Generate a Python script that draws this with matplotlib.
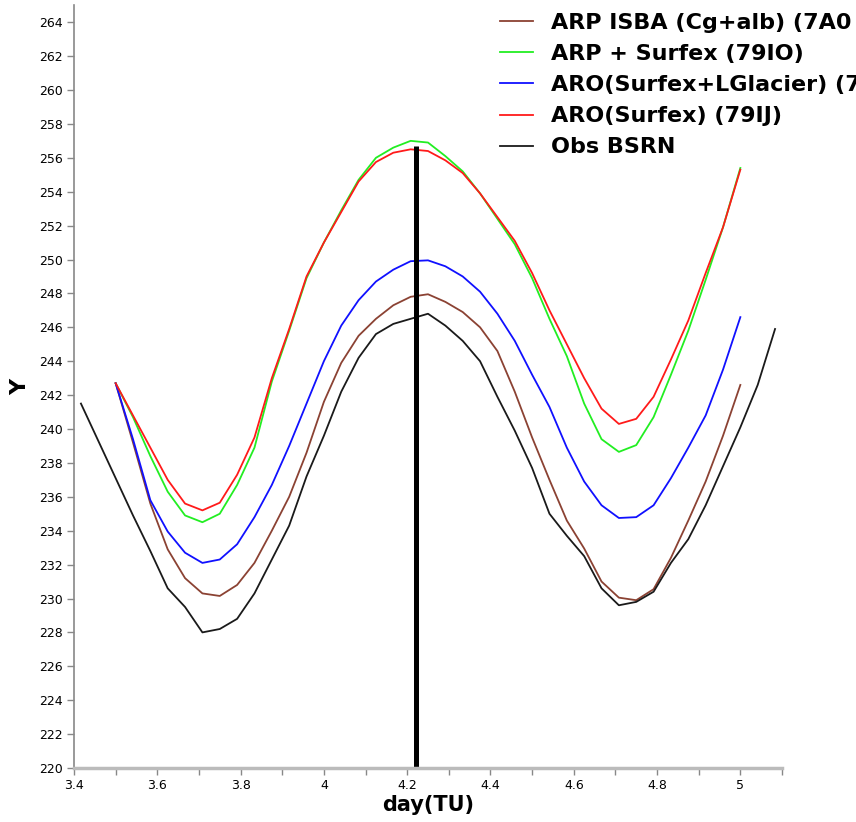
import numpy as np
import matplotlib
matplotlib.use("Agg")
import matplotlib.pyplot as plt
from matplotlib.ticker import MultipleLocator, FormatStrFormatter

# hourly model output, day 3.5 -> 5.0
t_model = 3.5 + np.arange(37) / 24.0
# hourly observations, day 3.4167 -> 5.0833
t_obs = 3.5 - 2 / 24.0 + np.arange(41) / 24.0

arp_isba = [242.7, 239.2, 235.6, 232.9, 231.2, 230.3, 230.15, 230.8, 232.1, 234.0,
            236.0, 238.6, 241.6, 243.9, 245.5, 246.5, 247.3, 247.8, 247.95, 247.5,
            246.9, 246.0, 244.6, 242.2, 239.5, 237.0, 234.6, 232.95, 231.0, 230.05,
            229.9, 230.55, 232.4, 234.6, 236.9, 239.6, 242.6]
arp_surfex = [242.7, 240.7, 238.4, 236.3, 234.9, 234.5, 235.0, 236.7, 238.9, 242.8,
              245.8, 248.9, 251.0, 252.9, 254.7, 256.0, 256.6, 257.0, 256.9, 256.1,
              255.2, 253.9, 252.4, 250.9, 248.9, 246.5, 244.3, 241.5, 239.4, 238.65,
              239.05, 240.7, 243.2, 245.8, 248.8, 251.9, 255.4]
aro_glacier = [242.7, 239.4, 235.8, 233.95, 232.7, 232.1, 232.3, 233.2, 234.8, 236.7,
               239.0, 241.5, 244.0, 246.1, 247.6, 248.7, 249.4, 249.9, 249.95, 249.6,
               249.0, 248.1, 246.8, 245.2, 243.2, 241.3, 238.9, 236.9, 235.5, 234.75,
               234.8, 235.5, 237.1, 238.9, 240.8, 243.5, 246.6]
aro_surfex = [242.7, 240.8, 238.9, 237.0, 235.6, 235.2, 235.65, 237.3, 239.5, 243.0,
              245.9, 249.0, 251.0, 252.8, 254.6, 255.75, 256.3, 256.5, 256.4, 255.85,
              255.1, 253.9, 252.5, 251.1, 249.2, 247.0, 245.0, 243.0, 241.2, 240.3,
              240.6, 241.9, 244.1, 246.4, 249.2, 251.9, 255.3]
obs_bsrn = [241.5, 239.3, 237.1, 234.9, 232.8, 230.6, 229.5, 228.0, 228.2, 228.8,
            230.3, 232.3, 234.3, 237.2, 239.6, 242.2, 244.2, 245.6, 246.2, 246.5,
            246.8, 246.1, 245.2, 244.0, 241.9, 239.9, 237.7, 235.0, 233.7, 232.5,
            230.6, 229.6, 229.8, 230.4, 232.1, 233.5, 235.5, 237.8, 240.1, 242.6, 245.9]

labels = ["ARP ISBA (Cg+alb) (7A0", "ARP + Surfex (79IO)",
          "ARO(Surfex+LGlacier) (7", "ARO(Surfex) (79IJ)", "Obs BSRN"]
colors = ["#8b4233", "#22ee22", "#1010ff", "#ff1a1a", "#1a1a1a"]

# vertical marker
vline_x = 4.222
vline_top = 256.7

fig = plt.figure(figsize=(8.56, 8.22), dpi=100)
ax = fig.add_axes([74 / 856, 1 - 768 / 822, 708 / 856, 762.75 / 822])

series = [(t_model, arp_isba), (t_model, arp_surfex), (t_model, aro_glacier),
          (t_model, aro_surfex), (t_obs, obs_bsrn)]
for (tt, yy), lab, c in zip(series, labels, colors):
    ax.plot(tt, yy, color=c, lw=1.3, label=lab)

ax.vlines(vline_x, 220, vline_top, color="black", lw=3.6)

ax.set_xlim(3.4, 5.1)
ax.set_ylim(220, 265)
ax.xaxis.set_major_locator(MultipleLocator(0.2))
ax.xaxis.set_minor_locator(MultipleLocator(0.1))
ax.xaxis.set_major_formatter(FormatStrFormatter("%g"))
ax.set_yticks(np.arange(220, 265, 2))

for s in ["top", "right"]:
    ax.spines[s].set_visible(False)
ax.spines["left"].set_color("#888888")
ax.spines["left"].set_linewidth(1.2)
ax.spines["bottom"].set_color("#bbbbbb")
ax.spines["bottom"].set_linewidth(2.5)

ax.tick_params(which="both", direction="out", color="#888888", width=1.0)
ax.tick_params(which="major", length=5, labelsize=9, pad=3)
ax.tick_params(which="minor", length=5)
for lab in ax.get_xticklabels() + ax.get_yticklabels():
    lab.set_family("DejaVu Sans")

ax.set_xlabel("day(TU)", fontsize=15, fontweight="bold",
              family="DejaVu Sans", labelpad=2)
ax.set_ylabel("Y", fontsize=16, fontweight="bold", family="DejaVu Sans",
              labelpad=6)

# legend runs off the right edge, as in the original
fig.legend(loc="upper left", bbox_to_anchor=(500 / 856, 1 - 13 / 822),
           frameon=False, borderpad=0, borderaxespad=0,
           handlelength=1.5, handletextpad=0.8, labelspacing=0.5,
           prop={"family": "DejaVu Sans", "weight": "bold", "size": 16})

fig.savefig("out.png", dpi=100)
